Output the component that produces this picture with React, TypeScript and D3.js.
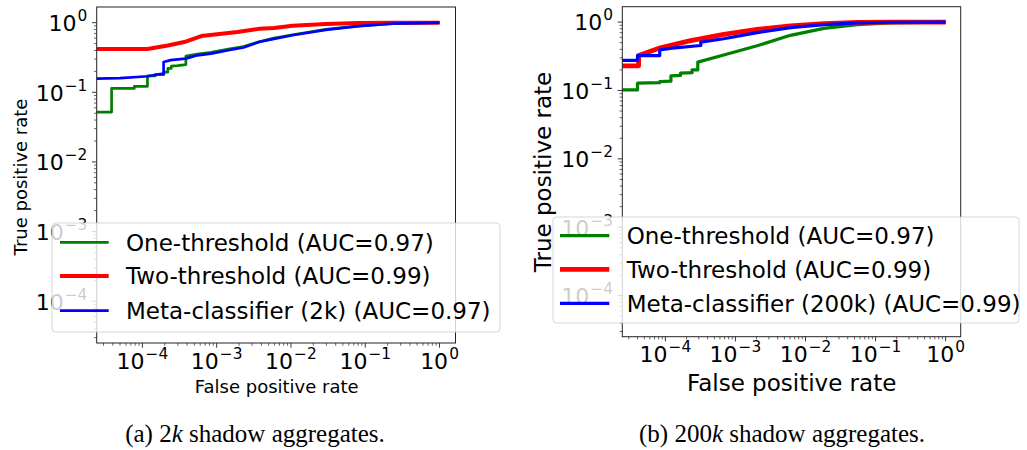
import React from "react";
import * as d3 from "d3";

// ---------- data (FPR, TPR) ----------
const oneThreshold2k: [number, number][] = [
  [1e-5, 0.052], [3.85e-5, 0.052], [3.85e-5, 0.114], [7.8e-5, 0.114], [7.8e-5, 0.122],
  [1.17e-4, 0.122], [1.17e-4, 0.172], [1.5e-4, 0.172], [1.5e-4, 0.18], [1.95e-4, 0.18],
  [1.95e-4, 0.195], [2.2e-4, 0.195], [2.2e-4, 0.22], [2.45e-4, 0.22], [2.45e-4, 0.238],
  [3.0e-4, 0.242], [3.85e-4, 0.25], [3.85e-4, 0.33], [5.5e-4, 0.355], [8.4e-4, 0.375],
  [1.5e-3, 0.42], [2.3e-3, 0.455], [3.7e-3, 0.53], [5.9e-3, 0.6], [0.0105, 0.67],
  [0.0294, 0.8], [0.082, 0.9], [0.23, 0.97], [1, 1],
];
const twoThreshold2k: [number, number][] = [
  [1e-5, 0.418], [1.17e-4, 0.418], [2.2e-4, 0.47], [3.66e-4, 0.527], [6.2e-4, 0.643],
  [1.9e-3, 0.733], [3.7e-3, 0.815], [5.9e-3, 0.84], [0.0105, 0.9], [0.0294, 0.96],
  [0.082, 0.99], [0.23, 1], [1, 1],
];
const meta2k: [number, number][] = [
  [1e-5, 0.155], [5e-5, 0.16], [1.2e-4, 0.17], [1.55e-4, 0.18], [1.93e-4, 0.185],
  [1.93e-4, 0.272], [2.4e-4, 0.29], [3.8e-4, 0.305], [4.5e-4, 0.32], [5.5e-4, 0.34],
  [8.4e-4, 0.36], [1.5e-3, 0.405], [2.3e-3, 0.44], [3.7e-3, 0.527], [5.9e-3, 0.585],
  [0.0105, 0.66], [0.0294, 0.79], [0.082, 0.89], [0.23, 0.967], [1, 1],
];
const oneThreshold200k: [number, number][] = [
  [1e-5, 0.102], [4.0e-5, 0.102], [4.0e-5, 0.128], [8.3e-5, 0.13], [8.3e-5, 0.135],
  [1.2e-4, 0.137], [1.2e-4, 0.164], [1.64e-4, 0.166], [1.64e-4, 0.179], [2.4e-4, 0.182],
  [2.4e-4, 0.2], [2.9e-4, 0.2], [2.9e-4, 0.26], [6.8e-4, 0.33], [2.04e-3, 0.45],
  [6.1e-3, 0.64], [0.0183, 0.81], [0.0547, 0.92], [0.164, 0.975], [1, 1],
];
const twoThreshold200k: [number, number][] = [
  [1e-5, 0.229], [4.15e-5, 0.229], [4.15e-5, 0.324], [8.5e-5, 0.42], [2.2e-4, 0.53],
  [6.8e-4, 0.66], [2.04e-3, 0.78], [6.1e-3, 0.88], [0.0183, 0.95], [0.0547, 0.99],
  [0.164, 1], [1, 1],
];
const meta200k: [number, number][] = [
  [1e-5, 0.276], [4.0e-5, 0.276], [4.0e-5, 0.324], [8.3e-5, 0.324], [8.3e-5, 0.393],
  [1.25e-4, 0.416], [3.2e-4, 0.455], [3.2e-4, 0.51], [6.8e-4, 0.57], [2.04e-3, 0.7],
  [6.1e-3, 0.83], [0.0183, 0.92], [0.0547, 0.975], [0.164, 0.995], [1, 1],
];

const legend2k = ["One-threshold (AUC=0.97)", "Two-threshold (AUC=0.99)", "Meta-classifier (2k) (AUC=0.97)"];
const legend200k = ["One-threshold (AUC=0.97)", "Two-threshold (AUC=0.99)", "Meta-classifier (200k) (AUC=0.99)"];
const seriesColors = ["green", "red", "blue"];
const xTickExps = [-4, -3, -2, -1, 0];
const yTickExps = [0, -1, -2, -3, -4];
const xDomainLog = [-4.615, 0.215];
const yDomainLog = [-4.6, 0.225];
const xLabel = "False positive rate";
const yLabel = "True positive rate";

const FONT = "DejaVu Sans";

type Panel = {
  left: number; right: number; top: number; bottom: number;
  series: [number, number][][];
  widths: number[];
  labels: string[];
  legend: { x: number; y: number; w: number; h: number; l0: number; l1: number; tx: number; rows: number[] };
  labelSize: number;
  xLabelX: number; xLabelY: number;
  yLabelX: number; yLabelY: number;
  xTickBase: number;
  caption: [string, string, string];
  captionX: number;
};

const panels: Panel[] = [
  {
    left: 96.7, right: 455.5, top: 7, bottom: 343,
    series: [oneThreshold2k, twoThreshold2k, meta2k],
    widths: [2.7, 4, 2.7],
    labels: legend2k,
    legend: { x: 52, y: 223, w: 448, h: 109, l0: 60, l1: 108.7, tx: 126, rows: [242.3, 276, 310.7] },
    labelSize: 18,
    xLabelX: 276.7, xLabelY: 392.5,
    yLabelX: 26.5, yLabelY: 177,
    xTickBase: 26,
    caption: ["(a) 2", "k", " shadow aggregates."],
    captionX: 255,
  },
  {
    left: 622.3, right: 960.7, top: 6.7, bottom: 336.7,
    series: [oneThreshold200k, twoThreshold200k, meta200k],
    widths: [3.2, 4.8, 3.2],
    labels: legend200k,
    legend: { x: 553, y: 217, w: 466, h: 106, l0: 560, l1: 609.3, tx: 626.7, rows: [235.7, 269.3, 303.3] },
    labelSize: 23,
    xLabelX: 791.7, xLabelY: 391,
    yLabelX: 551, yLabelY: 172,
    xTickBase: 25,
    caption: ["(b) 200", "k", " shadow aggregates."],
    captionX: 782,
  },
];

function minorTicks(domLog: number[]) {
  const out: number[] = [];
  for (let k = Math.floor(domLog[0]); k <= Math.ceil(domLog[1]); k++) {
    for (let m = 2; m <= 9; m++) {
      const v = m * Math.pow(10, k);
      const l = Math.log10(v);
      if (l >= domLog[0] && l <= domLog[1]) out.push(v);
    }
  }
  return out;
}

function PanelView({ p, idx }: { p: Panel; idx: number }) {
  const x = d3.scaleLog().domain([10 ** xDomainLog[0], 10 ** xDomainLog[1]]).range([p.left, p.right]);
  const y = d3.scaleLog().domain([10 ** yDomainLog[0], 10 ** yDomainLog[1]]).range([p.bottom, p.top]);
  const line = d3.line<[number, number]>().x((d) => x(d[0])).y((d) => y(d[1]));
  const clipId = `clip${idx}`;
  const tickFs = 22;
  const supFs = 15.4;
  const xMinor = minorTicks(xDomainLog);
  const yMinor = minorTicks(yDomainLog);
  const lg = p.legend;
  const sup = (e: number) => (e < 0 ? "\u2212" + Math.abs(e) : String(e));
  return (
    <g>
      <defs>
        <clipPath id={clipId}>
          <rect x={p.left} y={p.top} width={p.right - p.left} height={p.bottom - p.top} />
        </clipPath>
      </defs>
      {/* ticks */}
      <g stroke="#222" strokeWidth={0.9}>
        {xTickExps.map((e) => (
          <line key={"xM" + e} x1={x(10 ** e)} x2={x(10 ** e)} y1={p.bottom} y2={p.bottom + 4.7} />
        ))}
        {xMinor.map((v, i) => (
          <line key={"xm" + i} x1={x(v)} x2={x(v)} y1={p.bottom} y2={p.bottom + 2.7} strokeWidth={0.7} />
        ))}
        {yTickExps.map((e) => (
          <line key={"yM" + e} y1={y(10 ** e)} y2={y(10 ** e)} x1={p.left} x2={p.left - 4.7} />
        ))}
        {yMinor.map((v, i) => (
          <line key={"ym" + i} y1={y(v)} y2={y(v)} x1={p.left} x2={p.left - 2.7} strokeWidth={0.7} />
        ))}
      </g>
      {/* tick labels */}
      <g fontFamily={FONT} fill="#000">
        {xTickExps.map((e) => (
          <text key={"xl" + e} x={x(10 ** e)} y={p.bottom + p.xTickBase} textAnchor="middle" fontSize={tickFs}>
            <tspan>10</tspan>
            <tspan dx={1} dy={-10} fontSize={supFs}>{sup(e)}</tspan>
          </text>
        ))}
        {yTickExps.map((e) => (
          <text key={"yl" + e} x={p.left - 9.3} y={y(10 ** e) + 8.4} textAnchor="end" fontSize={tickFs}>
            <tspan>10</tspan>
            <tspan dx={1} dy={-10} fontSize={supFs}>{sup(e)}</tspan>
          </text>
        ))}
      </g>
      {/* axis labels */}
      <text x={p.xLabelX} y={p.xLabelY} textAnchor="middle" fontFamily={FONT} fontSize={p.labelSize}>{xLabel}</text>
      <text
        transform={`translate(${p.yLabelX},${p.yLabelY}) rotate(-90)`}
        textAnchor="middle" fontFamily={FONT} fontSize={p.labelSize}
      >{yLabel}</text>
      {/* curves */}
      <g clipPath={`url(#${clipId})`} fill="none" strokeLinejoin="round">
        {p.series.map((s, i) => (
          <path key={i} d={line(s) || ""} stroke={seriesColors[i]} strokeWidth={p.widths[i]} />
        ))}
      </g>
      {/* frame */}
      <rect x={p.left} y={p.top} width={p.right - p.left} height={p.bottom - p.top} fill="none" stroke="#222" strokeWidth={1} />
      {/* legend */}
      <rect x={lg.x} y={lg.y} width={lg.w} height={lg.h} rx={3.5} fill="#fff" fillOpacity={0.8} stroke="#ccc" strokeOpacity={0.8} strokeWidth={1} />
      {p.labels.map((lab, i) => (
        <g key={"lg" + i}>
          <line x1={lg.l0} x2={lg.l1} y1={lg.rows[i]} y2={lg.rows[i]} stroke={seriesColors[i]} strokeWidth={p.widths[i]} />
          <text x={lg.tx} y={lg.rows[i] + 8.3} fontFamily={FONT} fontSize={23}>{lab}</text>
        </g>
      ))}
      {/* caption */}
      <text x={p.captionX} y={442} textAnchor="middle" fontFamily="Liberation Serif" fontSize={25}>
        <tspan>{p.caption[0]}</tspan>
        <tspan fontStyle="italic">{p.caption[1]}</tspan>
        <tspan>{p.caption[2]}</tspan>
      </text>
    </g>
  );
}

export default function App() {
  return (
    <svg width={1027} height={450} style={{ position: "absolute", left: 0, top: 0, background: "#fff" }}>
      <rect width={1027} height={450} fill="#fff" />
      {panels.map((p, i) => (
        <PanelView key={i} p={p} idx={i} />
      ))}
    </svg>
  );
}
